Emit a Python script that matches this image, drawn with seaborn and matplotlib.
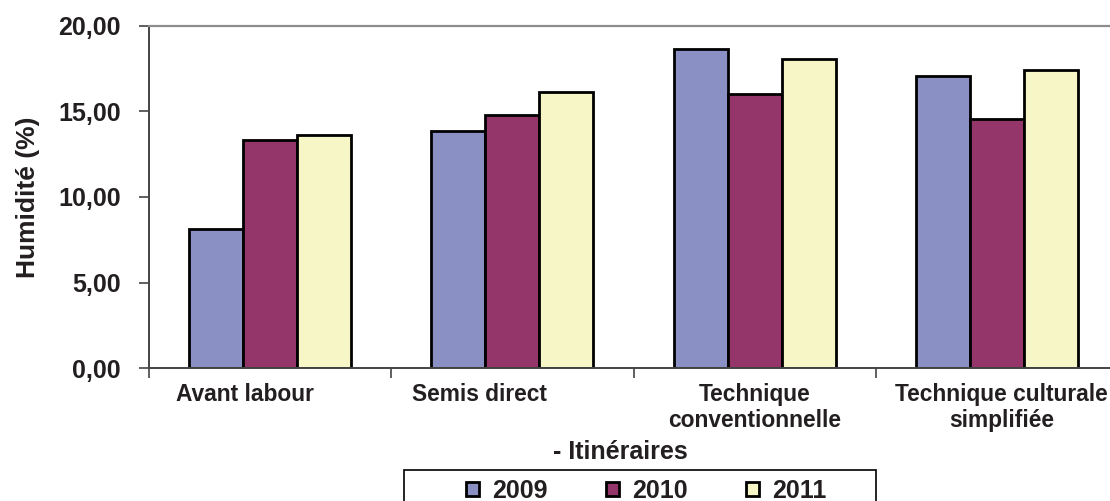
import matplotlib
matplotlib.use("Agg")
import matplotlib.pyplot as plt
from matplotlib.patches import Rectangle
from matplotlib.transforms import ScaledTranslation
import seaborn as sns
import pandas as pd
from matplotlib.ticker import FixedLocator, FuncFormatter

# Soil moisture by tillage itinerary and year
itineraires = ["Avant labour", "Semis direct", "Technique\nconventionnelle",
               "Technique culturale\nsimplifiée"]
annees = ["2009", "2010", "2011"]
h2009 = [8.13, 13.84, 18.67, 17.09]
h2010 = [13.35, 14.80, 16.02, 14.58]
h2011 = [13.60, 16.14, 18.07, 17.40]

couleurs = ["#8A8FC4", "#943669", "#F7F6C6"]

rows = []
for an, vals in zip(annees, [h2009, h2010, h2011]):
    for it, v in zip(itineraires, vals):
        rows.append({"Itinéraire": it, "Année": an, "Humidité": v})
df = pd.DataFrame(rows)

sns.set_theme(style="white")
plt.rcParams["font.family"] = ["Liberation Sans", "DejaVu Sans"]
plt.rcParams["font.weight"] = "bold"

TXT = "#231F20"
W, H = 1110, 501
fig = plt.figure(figsize=(W / 100, H / 100), dpi=100)
x0, x1, ytop, ybot = 148.5, 1118.5, 26, 368
ax = fig.add_axes([x0 / W, 1 - ybot / H, (x1 - x0) / W, (ybot - ytop) / H])

sns.barplot(data=df, x="Itinéraire", y="Humidité", hue="Année",
            order=itineraires, hue_order=annees, palette=couleurs,
            width=0.666, edgecolor="black", linewidth=2.0,
            saturation=1, errorbar=None, ax=ax, legend=True)

ax.set_xlim(-0.5, 3.5)
ax.set_ylim(0, 20)
ax.set_yticks([0, 5, 10, 15, 20])
ax.yaxis.set_major_formatter(FuncFormatter(lambda v, p: f"{v:.2f}".replace(".", ",")))

ax.xaxis.set_minor_locator(FixedLocator([-0.5, 0.5, 1.5, 2.5, 3.5]))
ax.tick_params(axis="x", which="major", length=0, pad=11, labelsize=16.4,
               labelcolor=TXT)
ax.tick_params(axis="x", which="minor", length=7, width=1.2, color="#444444",
               direction="out", bottom=True)
ax.tick_params(axis="y", which="major", length=7, width=1.2, color="#444444",
               direction="out", left=True, pad=13, labelsize=18,
               labelcolor=TXT)
for lab in ax.get_xticklabels() + ax.get_yticklabels():
    lab.set_fontweight("bold")
    lab.set_multialignment("center")
    lab.set_linespacing(1.15)

# single-line category labels sit a little left of their group
decalage_px = [-25, -33, 0, 4]
for lab, dx in zip(ax.get_xticklabels(), decalage_px):
    lab.set_transform(lab.get_transform() +
                      ScaledTranslation(dx / 100, 0, fig.dpi_scale_trans))

for side in ["left", "bottom"]:
    ax.spines[side].set_color("#444444")
    ax.spines[side].set_linewidth(1.4)
ax.spines["top"].set_color("#8C8C8C")
ax.spines["top"].set_linewidth(1.6)
ax.spines["right"].set_visible(False)

ax.set_ylabel("Humidité (%)", fontsize=19, fontweight="bold", color=TXT)
ax.yaxis.set_label_coords((28 - x0) / (x1 - x0), 0.5)
ax.yaxis.label.set_va("center")
ax.set_xlabel("- Itinéraires", fontsize=18, fontweight="bold", color=TXT)
ax.xaxis.set_label_coords((620 - x0) / (x1 - x0), -(452 - ybot) / (ybot - ytop))
ax.xaxis.label.set_va("center")

# legend: framed box running off the bottom edge, entries spread inside it
handles, labels = ax.get_legend_handles_labels()
ax.get_legend().remove()
fig.patches.append(Rectangle((404 / W, -0.05), (876 - 404) / W, 0.05 + 1 - 470 / H,
                             transform=fig.transFigure, facecolor="white",
                             edgecolor="black", linewidth=1.2, zorder=1))
leg = fig.legend(handles, labels, loc="center left",
                 bbox_to_anchor=(466 / W, 1 - 491 / H), ncol=3,
                 frameon=False, prop={"weight": "bold", "size": 18},
                 handlelength=0.5, handleheight=0.5, handletextpad=0.55,
                 columnspacing=2.33, borderpad=0, borderaxespad=0)
for t in leg.get_texts():
    t.set_color(TXT)
for h in leg.legend_handles:
    h.set_linewidth(2.0)

fig.savefig("out.png", dpi=100)
